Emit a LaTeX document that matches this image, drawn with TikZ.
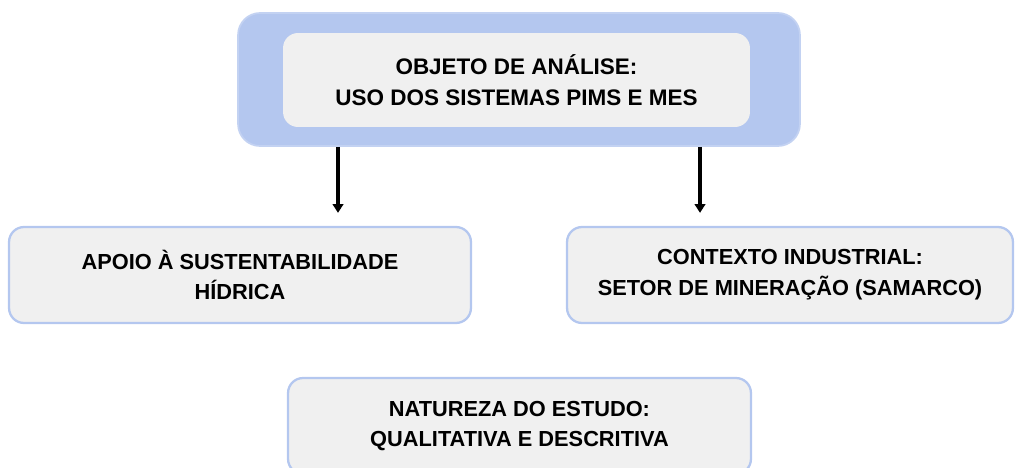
\documentclass[tikz,border=0pt]{standalone}
\usepackage{fontspec}
\setsansfont{Liberation Sans}
\usepackage{tikz}
\usetikzlibrary{positioning,arrows.meta}

\definecolor{azulmoldura}{HTML}{B4C7EF}
\definecolor{cinzacaixa}{HTML}{F0F0F0}

\begin{document}
\begin{tikzpicture}[x=0.02cm,y=-0.02cm,
		moldura/.style={fill=azulmoldura,draw=azulmoldura!80!white,line width=1pt,rounded corners=0.44cm,minimum width=11.24cm,minimum height=2.66cm},
		caixa/.style={fill=cinzacaixa,draw=azulmoldura,line width=1.3pt,rounded corners=0.3cm,minimum height=1.92cm,align=center,font=\sffamily\bfseries\fontsize{12.4}{17.5}\selectfont},
		interna/.style={caixa,draw=none,minimum width=9.34cm,minimum height=1.88cm,font=\sffamily\bfseries\fontsize{12.8}{17.5}\selectfont},
		seta/.style={-{Triangle[length=5pt,width=6pt]},line width=2.2pt,shorten >=13*0.02cm}]
		\useasboundingbox (0,0) rectangle (1017,467);
		\clip (0,0) rectangle (1017,467);
		\node[moldura] (moldura) at (519,79.5) {};
		\node[interna] (objeto) at (516.5,80) {OBJETO DE ANÁLISE:\\USO DOS SISTEMAS PIMS E MES};
		\node[caixa,minimum width=9.24cm] (apoio) at (240,275) {APOIO À SUSTENTABILIDADE\\HÍDRICA};
		\node[caixa,minimum width=8.92cm] (contexto) at (790,275) {CONTEXTO INDUSTRIAL:\\SETOR DE MINERAÇÃO (SAMARCO)};
		\node[caixa,minimum width=9.26cm] (natureza) at (519.5,426) {NATUREZA DO ESTUDO:\\QUALITATIVA E DESCRITIVA};
		\coordinate (pe) at (338,0);
		\coordinate (pd) at (700,0);
		\draw[seta] (moldura.south -| pe) -- (apoio.north -| pe);
		\draw[seta] (moldura.south -| pd) -- (contexto.north -| pd);
	\end{tikzpicture}
\end{document}
